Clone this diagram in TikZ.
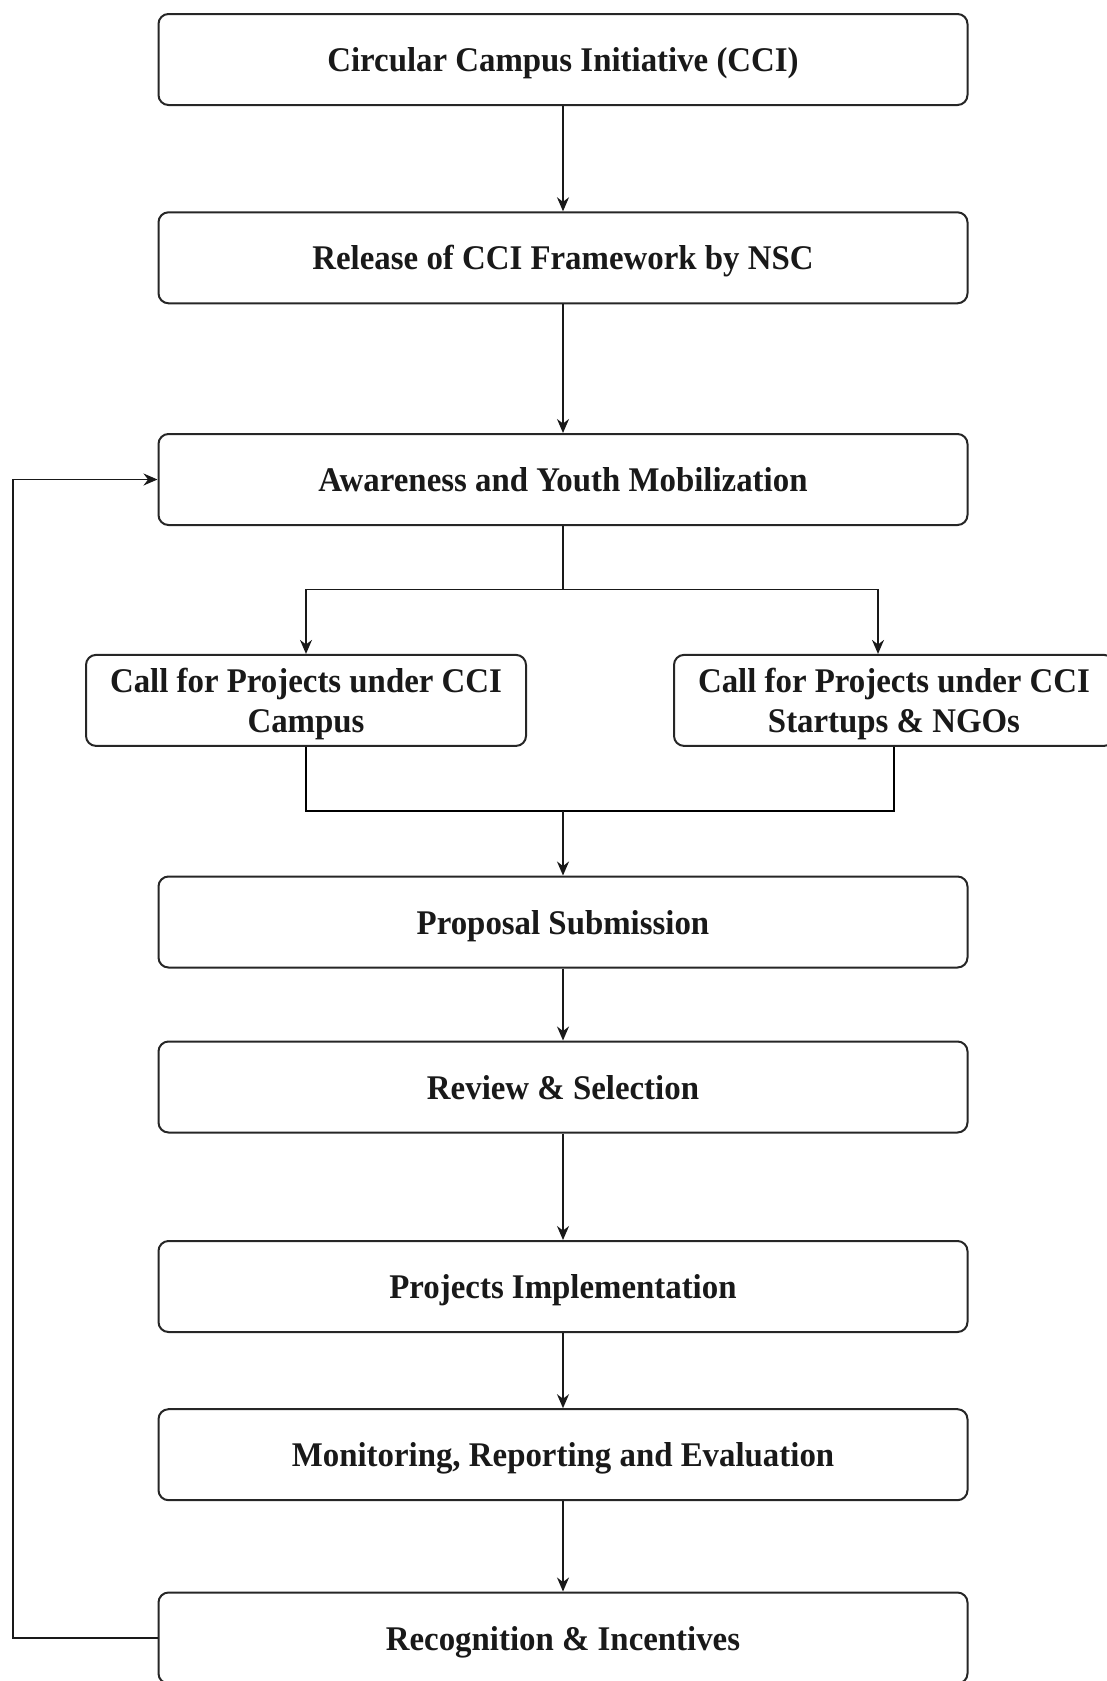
\documentclass[tikz,border=0pt]{standalone}
\usepackage{fontspec}
\setmainfont{Liberation Serif}[FakeStretch=0.95]
\usetikzlibrary{arrows.meta}
\begin{document}
\begin{tikzpicture}[
x=0.5pt,y=-0.5pt,
stage/.style={draw=black!85,line width=1pt,rounded corners=5pt,minimum width=404.5pt,minimum height=45.5pt,align=center,text depth=0pt,font=\bfseries\fontsize{17.3}{19.85}\selectfont,text=black!90},
callbox/.style={stage,minimum width=220pt},
link/.style={-{Stealth[length=7pt,width=6pt]},line width=0.8pt,draw=black!90},
]
\useasboundingbox(0,0)rectangle(1107,1681);
%stages
\node[stage](cci)at(563,59.5){Circular Campus Initiative (CCI)};
\node[stage](release)at(563,257.8){Release of CCI Framework by NSC};
\node[stage](aware)at(563,479.5){Awareness and Youth Mobilization};
%calls
\node[callbox](campus)at(306,700.4){Call for Projects under CCI\\Campus};
\node[callbox](startup)at(894,700.4){Call for Projects under CCI\\Startups \& NGOs};
\node[stage](proposal)at(563,922){Proposal Submission};
\node[stage](review)at(563,1087){Review \& Selection};
\node[stage](impl)at(563,1286.5){Projects Implementation};
\node[stage](monitor)at(563,1454.7){Monitoring, Reporting and Evaluation};
\node[stage](recog)at(563,1638){Recognition \& Incentives};
%junctions
\coordinate(split)at(563,589.5);
\coordinate(merge)at(563,811);
\coordinate(loop)at(13,1000);
%flow
\draw[link](cci)--(release);
\draw[link](release)--(aware);
\draw[link](aware.south)--(split)-|(campus.north);
\draw[link](split)-|([xshift=-8pt]startup.north);
\draw[line width=0.8pt](campus.south)|-(merge)-|(startup.south);
\draw[link](merge)--(proposal);
\draw[link](proposal)--(review);
\draw[link](review)--(impl);
\draw[link](impl)--(monitor);
\draw[link](monitor)--(recog);
%feedback
\draw[link](recog.west)--(recog.west-|loop)--(aware.west-|loop)--(aware.west);
\end{tikzpicture}
\end{document}
